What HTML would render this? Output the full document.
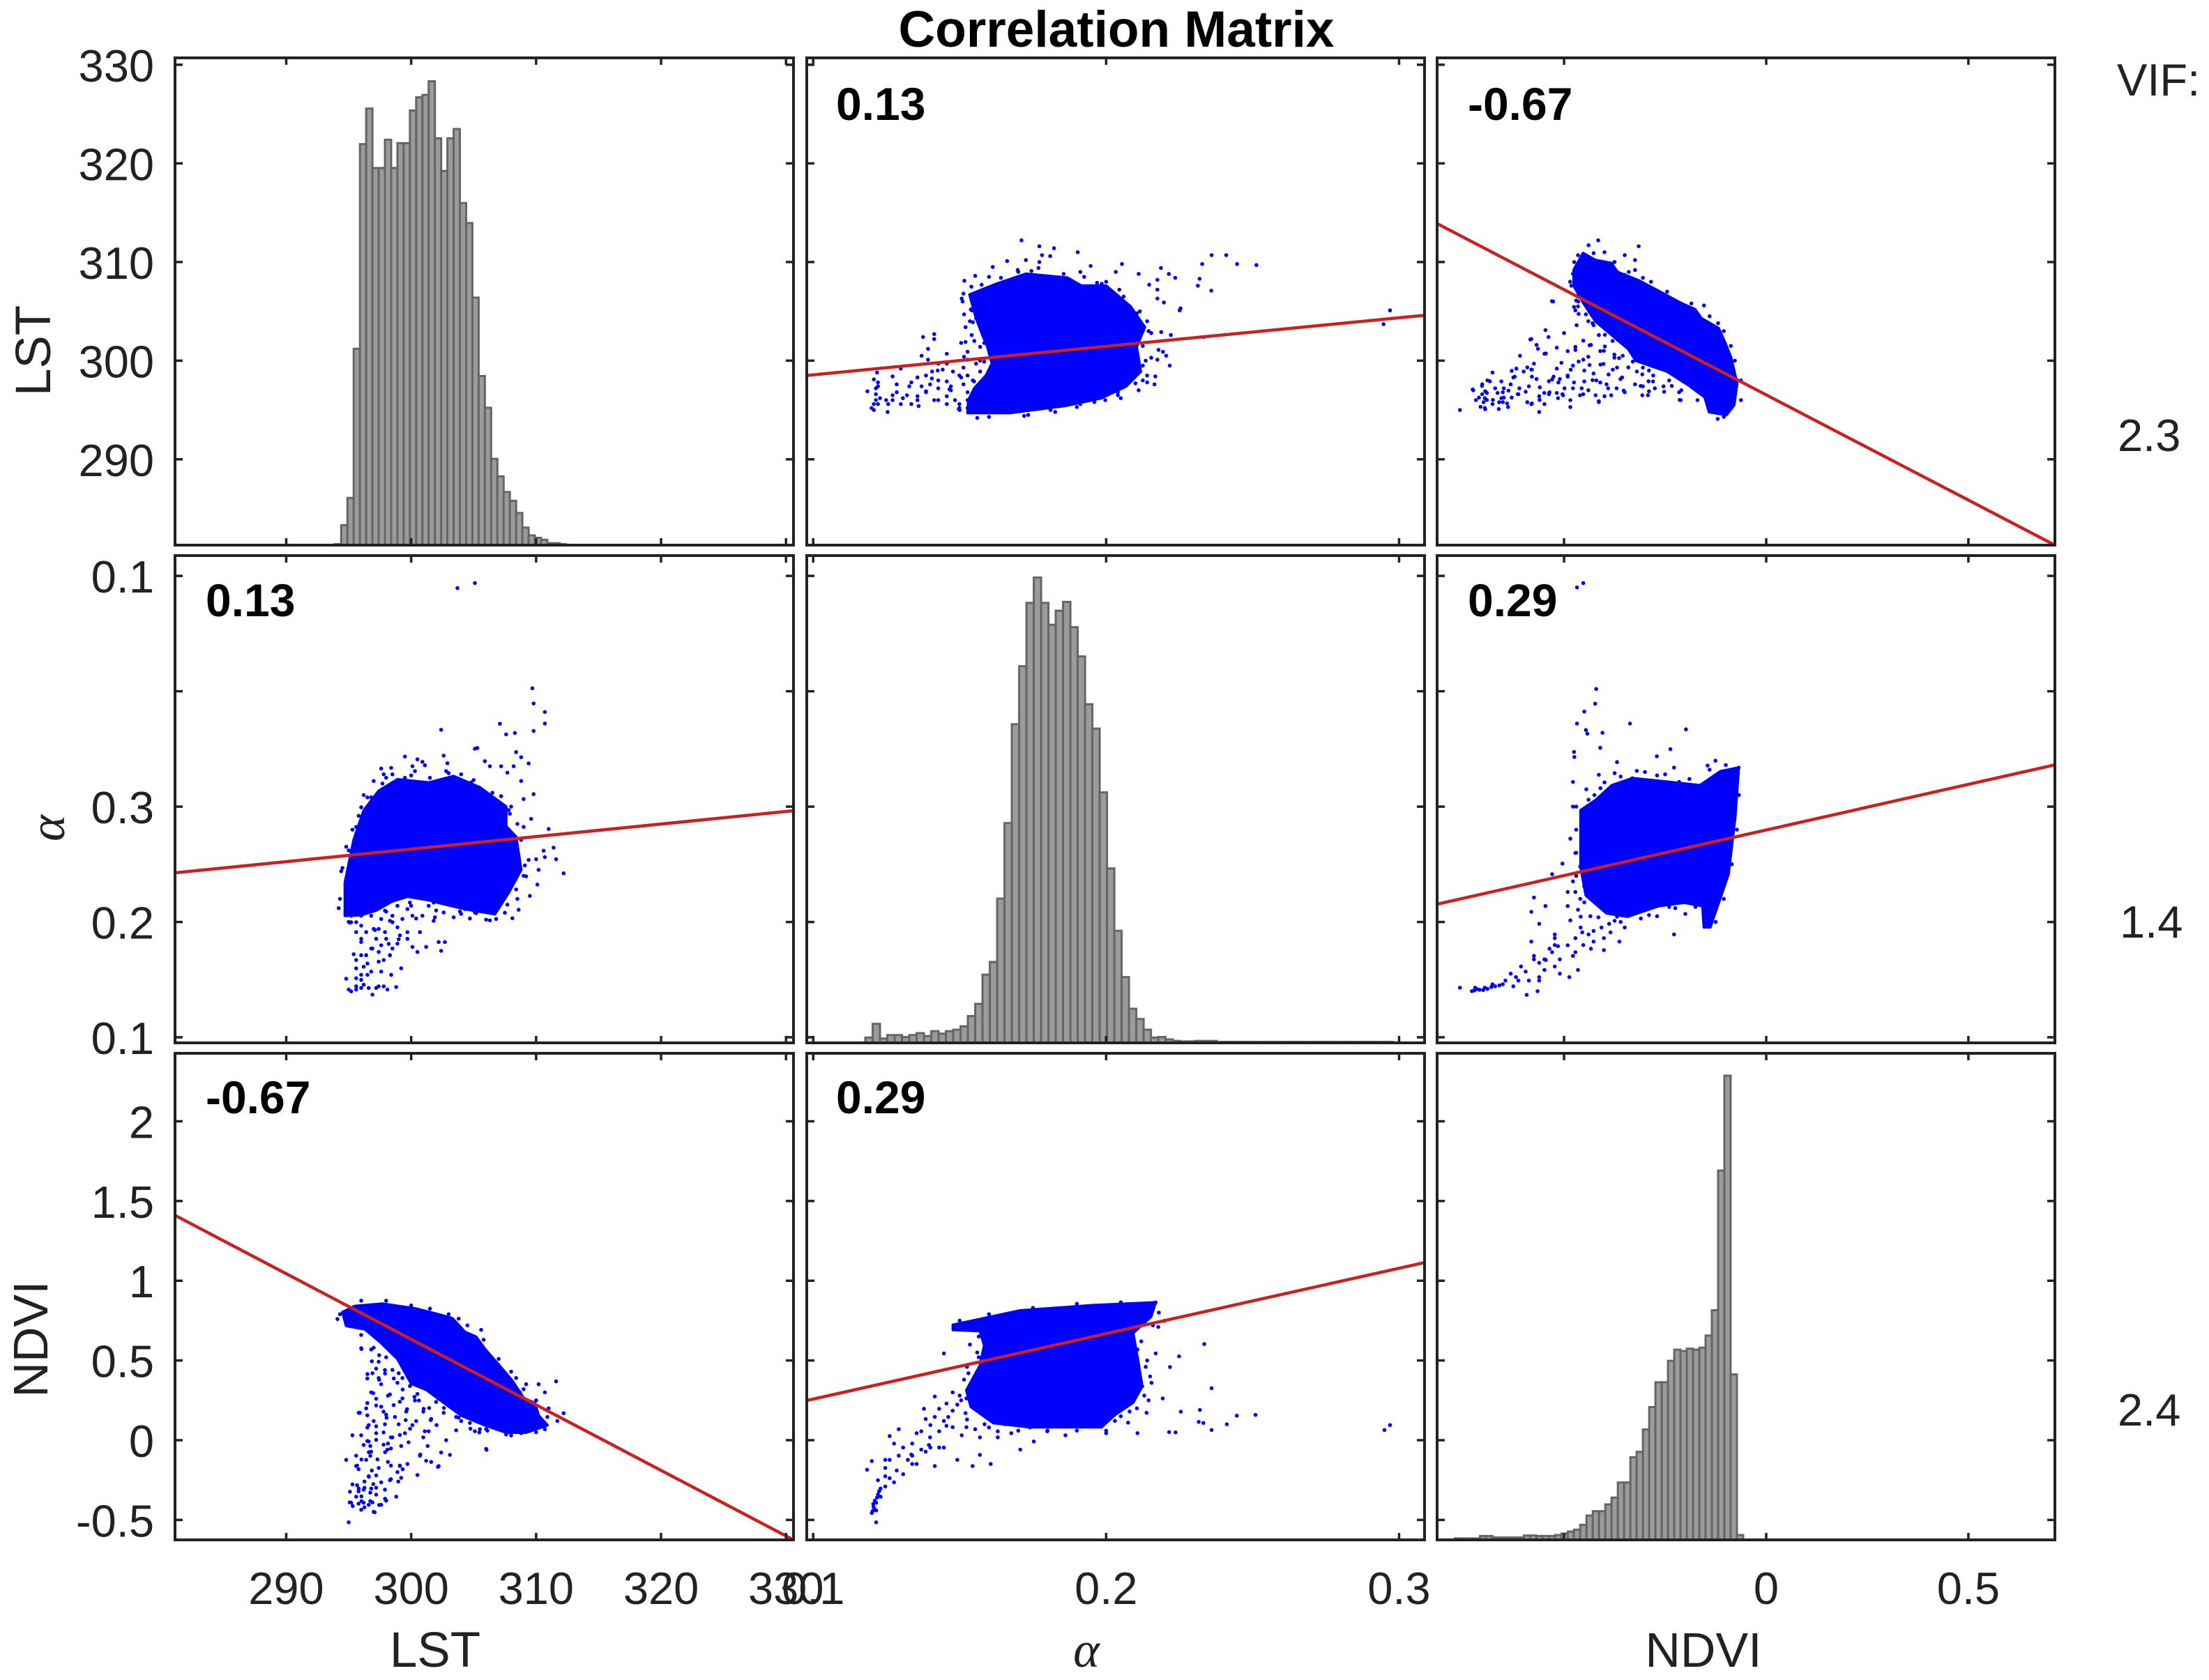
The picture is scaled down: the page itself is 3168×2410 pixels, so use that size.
<!DOCTYPE html>
<html lang="en">
<head>
<meta charset="utf-8">
<title>Correlation Matrix</title>
<style>
html,body{margin:0;padding:0;background:#fff;}
svg{display:block;}
text{font-family:"Liberation Sans",sans-serif;fill:#222;}
</style>
</head>
<body>
<svg id="chart" xmlns="http://www.w3.org/2000/svg" width="3168" height="2410" viewBox="0 0 3168 2410">
<rect x="0" y="0" width="3168" height="2410" fill="#fff"/>
<text x="1601" y="67" text-anchor="middle" font-size="73" font-weight="700" style="fill:#000" textLength="625" lengthAdjust="spacingAndGlyphs">Correlation Matrix</text>
<text x="3036" y="137" font-size="65">VIF:</text>
<text x="3037" y="647" font-size="65">2.3</text>
<text x="3040" y="1345" font-size="65">1.4</text>
<text x="3037" y="2045" font-size="65">2.4</text>
<text transform="translate(72,503) rotate(-90)" text-anchor="middle" font-size="71">LST</text>
<text transform="translate(92,1188) rotate(-90)" text-anchor="middle" font-size="72" font-style="italic" style="font-family:'Liberation Serif',serif">α</text>
<text transform="translate(68,1921) rotate(-90)" text-anchor="middle" font-size="70">NDVI</text>
<text x="624" y="2391" text-anchor="middle" font-size="71">LST</text>
<text x="1558" y="2391" text-anchor="middle" font-size="72" font-style="italic" style="font-family:'Liberation Serif',serif">α</text>
<text x="2443" y="2391" text-anchor="middle" font-size="70">NDVI</text>
</svg>
<script>
// ---- Axis tick values and printed labels ----
const lstTicks = [290, 300, 310, 320, 330];
const lstTickLabels = ['290', '300', '310', '320', '330'];
const alphaXTicks = [0.1, 0.2, 0.3];
const alphaXTickLabels = ['0.1', '0.2', '0.3'];
const alphaYTicks = [0.1, 0.15, 0.2, 0.25, 0.3];
const alphaYTickLabels = ['0.1', '0.2', '0.3', '', '0.1'];
const ndviXTicks = [0, 1, 2];
const ndviXTickLabels = ['', '0', '0.5'];
const ndviYTicks = [-0.5, 0, 0.5, 1, 1.5, 2];
const ndviYTickLabels = ['-0.5', '0', '0.5', '1', '1.5', '2'];

// ---- Histogram counts (per-mille of axis height) ----
const lstHistStart = 293.9;
const lstHistBin = 0.5;
const lstHistCounts = [2,41,97,403,823,896,774,774,832,774,825,825,892,919,924,952,835,768,835,854,702,661,508,347,282,177,141,109,91,66,36,20,15,11,4,4,2];
const alphaHistStart = 0.1178;
const alphaHistBin = 0.0025;
const alphaHistCounts = [11,39,9,16,16,12,16,20,14,24,19,24,27,34,55,80,140,166,296,451,654,773,903,955,903,858,887,905,853,793,695,645,514,358,230,135,70,49,27,11,12,7,4,3,3,4,4,4,2,2,2,2,2,2,2,2,2,2,2,2,2,2,2,2,2,2,2,2,2,2,2,2];
const ndviHistStart = -0.54;
const ndviHistBin = 0.031;
const ndviHistCounts = [3,3,3,3,8,8,5,5,5,5,5,9,9,8,8,8,10,13,17,21,31,50,59,59,73,87,118,118,170,181,227,273,324,324,368,391,388,393,391,395,420,472,759,954,340,10];

// ---- Scatter: dense core outlines and sparse points, [a, b] value pairs ----
const lstAlphaCore = [[294.7,.1527],[294.7,.167],[295.4,.1855],[296.2,.1983],[297.4,.2068],[298.9,.2118],[301.4,.2104],[303.4,.2132],[305.5,.2083],[307.6,.2],[307.6,.1915],[308.4,.1869],[308.8,.1726],[307.8,.1627],[306.7,.1534],[304.3,.1556],[302.6,.1578],[301.4,.1595],[299.7,.161],[298.5,.159],[297.2,.155],[296,.153]];
const lstAlphaPoints = [[303.7,.2947],[305.1,.2969],[309.7,.2513],[309.8,.2447],[310.7,.241],[310.7,.236],[309.8,.2328],[307.1,.2359],[307.6,.2313],[308.3,.2319],[302.4,.2333],[305.1,.2251],[305.3,.2254],[308.4,.2236],[308.8,.2214],[309.4,.2187],[305.9,.2197],[299.5,.2217],[300.5,.2205],[300.9,.2194],[302.6,.2221],[302.9,.2188],[301.1,.2179],[297.6,.2165],[298.4,.2168],[297.8,.214],[300.1,.2175],[300.3,.2154],[302.8,.2154],[306.3,.2175],[307.2,.2175],[307.7,.2147],[308.2,.2175],[308.8,.2111],[309.8,.2054],[309,.2033],
[312.2,.1711],[311,.1903],[311.4,.1822],[310.6,.1809],[311.6,.1772],[310.7,.1781],[310,.1772],[310.2,.1726],[310.1,.1662],[309.5,.1613],[308.6,.1553],[308.1,.1516],[306.8,.1513],[306.3,.1507],[308.4,.1641],[309.2,.1698],[307.8,.1769],[308.8,.1855],[309.6,.1947],[307.9,.1969],[306.7,.1912],[309,.1912],[307.4,.1684],[306.9,.1598],[308.4,.1734],[309.4,.1769],[307.6,.1848],[307.2,.2045],[308,.2],[308.5,.1925],[307.3,.1935],[308.2,.1805],[309.1,.1745],[307.1,.1655],[307.7,.1575],[306.2,.1555],[305.2,.1538],[304.7,.1515],[303.9,.1545],
[295.6,.1456],[294.8,.1254],[295,.1207],[295.2,.1199],[295.6,.1207],[296,.1214],[296.6,.1214],[296.9,.1185],[297.4,.1221],[298.1,.1207],[298.8,.1218],[295.6,.1256],[296,.1249],[296.5,.1271],[296.8,.1285],[296.2,.1306],[295.6,.1335],[295.4,.136],[296.4,.1356],[297.4,.137],[298.3,.1356],[299.2,.1299],[298.4,.1271],[297.6,.1285],[300.1,.1392],[301.2,.1392],[302.2,.1413],[302.7,.1413],[302.4,.1375],[300.5,.137],[296,.1413],[297.2,.1427],[297.9,.1456],[298.9,.1477],[299.7,.1456],[300.7,.1456],[298.5,.1527],[299.7,.1556],[296,.1484],[296.8,.1527],[297.6,.1513],[301.4,.157],[302.6,.1541],[303.4,.152],[304.3,.1556],[305.1,.1541],[305.7,.157],[303,.1584],[294.8,.157],[295.2,.1527],[296.8,.157],[300.1,.1627],[299.5,.1613],[294.5,.1734],[294.8,.1826],[295.6,.1912],[296.5,.204],[297,.2111],[296,.1997],[295.1,.1497],[295.4,.1655],[298.3,.1505],[299,.1425],[296.9,.1385],[297.8,.1335],[298.2,.1405],[297.1,.1465],[300.4,.1515],[301.8,.1505],[295.9,.1925],[296.2,.205],[298,.2125],[299.5,.2125],[303.2,.2105],[304.8,.2105],[305.6,.2065],
[296,.1427],[296.4,.1456],[297.4,.147],[298.5,.1499],[299.3,.1513],[300.1,.1527],[300.9,.1527],[301.9,.152],[295.6,.1499],[297,.147],[298,.1427],[298.9,.1406],[299.7,.1427],[297.6,.1399],[296.8,.1385],[296,.1356],[295.6,.1299],[296.5,.132],[296,.1271],[298.5,.1385],[299.1,.1442],[297.4,.1328],[298.3,.1356],[295.6,.1221],[296.2,.1228],[297.2,.1214],[297.8,.1221],[301.8,.1584],[299.9,.1584],[298.9,.157],[297.9,.1549],[297.1,.1556],[296,.1527],[295.2,.1499],
[304,.214],[305,.2115],[306.5,.206],[307.8,.1985],[294.3,.16],[294.2,.156],[294.4,.172],[295,.181],[295.3,.19],[295.8,.196],[296.8,.204],[297.7,.21],[298.5,.214],[300,.2135],[301.5,.2125],[303,.2145],[295,.15],[298,.1545],[300,.157],[302,.155],[304,.1535],[306,.151],[307.5,.154],[308.5,.16],[309,.17]];

const lstNdviCore = [[310.9,.094],[309.2,.048],[307.6,.048],[305.9,.094],[304,.155],[301.2,.317],[300,.355],[298.9,.51],[297.5,.617],[296.3,.696],[294.8,.717],[294.5,.803],[295.5,.841],[297.7,.856],[300.3,.826],[301.9,.795],[303.3,.764],[304.3,.679],[305.2,.648],[305.9,.572],[307.1,.464],[308.1,.372],[309,.264],[309.9,.233],[310.2,.155]];
const lstNdviPoints = [[295,-.515],[297,-.449],[296,-.436],[297.6,-.405],[298,-.379],[295.2,-.392],[295.6,-.354],[296.2,-.392],[296.6,-.405],[295.1,-.323],[295.3,-.277],[295.8,-.303],[296.8,-.303],[297.2,-.341],[298.8,-.354],[298.3,-.251],[297.6,-.264],[296.6,-.226],[298.9,-.2],[300.5,-.218],[302.2,-.162],[299.7,-.149],[301.6,-.136],[300.7,-.097],[299.1,-.162],[295.6,-.162],[294.8,-.123],[295.6,-.097],[296.4,-.123],[296.8,-.072],[297.4,-.174],[298.1,-.059],[302.4,-.077],[303.1,-.092],[306,-.054],[295.3,.031],[296,.031],[296.6,-.008],[297.2,.044],[298.5,.018],[299.5,.044],[300.1,.095],[301.4,.056],[302.8,0],[303.6,.062],[295.8,.172],[296.6,.095],[297.6,.21],[298.7,.146],[301,.197],[301.6,.133],[302.6,.172],[303.6,.146],[304.7,.108],[305.5,.069],[296.8,.3],[298.3,.287],[299.3,.262],[300.3,.249],[296.5,.415],[297.4,.39],[298.5,.441],[297.4,.492],[296.8,.569],[296,.577],[299.3,.39],[297.6,.351],
[296.2,-.31],[296.9,-.39],[297.9,-.31],[297.3,-.12],[296.2,-.03],[297.9,.1],[299,.1],[296.4,.2],[297,.12],[298,.16],[299.6,.18],[300.4,.12],[297.2,.26],[298.6,.22],[296.9,.42],[297.9,.44],[298.9,.36],[299.9,.34],
[312.2,.169],[311.6,.369],[310.7,.3],[310.2,.351],[309.2,.351],[310,.249],[310.9,.146],[311.7,.121],[310.7,.069],[309.6,.082],[308.8,.044],[307.6,.036],[310.2,.146],[305.6,.692],[306.5,.505],[308.4,.39],[307.4,.338],[309,.262],[310,.159],[303.8,.762],[305.1,.056],[309.2,.121],[308.4,.069],[307.8,.121],[306.8,.072],[306.1,.06],[304.9,.13],[303.9,.18],[309.9,.2],[308.7,.3],
[295.32,-.413],[295.08,-.39],[295.79,-.398],[296.26,-.421],[296.02,-.382],[296.02,-.352],[295.79,-.321],[296.26,-.298],[296.73,-.329],[297.2,-.298],[296.97,-.275],[296.26,-.259],[295.67,-.282],[296.61,-.229],[297.2,-.221],[296.85,-.19],[295.79,-.182],[295.67,-.159],[296.02,-.121],[296.73,-.098],[296.61,-.075],[296.73,-.036],[296.49,-.005],[297.2,.002],[297.79,-.028],[297.91,-.075],[298.38,-.052],[298.14,-.021],[298.38,.018],[299.09,.033],[297.79,.049],[297.2,.087],[296.49,.079],[296.49,.156],[295.9,.172],[298.03,.141],[297.79,.179],[297.2,.218],[296.49,.233],[296.97,.295],[298.14,.279],[299.09,.241],[299.67,.195],[299.56,.126],[299.91,.072],[299.79,-.013],[299.2,-.036],[299.09,-.159],[299.32,-.182],[299.2,-.236],[298.97,-.259],[298.38,-.244],[298.38,-.159],[298.14,-.136],[297.91,-.367],[297.44,-.406],[297.08,-.452],[296.73,-.382],[301.2,-.129],[302.15,-.167],[300.73,-.09],[301.32,-.036],[300.97,.018],[301.09,.056],[302.03,.095],[301.56,.126],[300.97,.179],[301.44,.202],[300.62,.249],[300.26,.272],[299.32,.318],[298.61,.387],[297.91,.418],[297.44,.379],[297.2,.449],[296.85,.495],[296.49,.387],[297.44,.533],[296.02,.572],[300.26,.364],[302.15,.356],[305.45,.049],[304.74,.072],[303.8,.141],[302.62,.202],[302.15,.264],[306.03,-.06],
[294.3,.79],[294.1,.76],[296,.875],[298,.875],[300,.845],[301.5,.825],[303,.79],[304.5,.72],[305.8,.63],[307,.51],[308,.43],[309,.32],[310,.25],[311,.2],[310,.05],[308,.03],[306,.07],[304,.12],[302,.24],[300.5,.29],[299,.42],[298,.52],[297,.58],[296,.66]];

const alphaNdviCore = [[.1477,.723],[.1707,.813],[.1953,.846],[.2169,.864],[.2153,.774],[.2092,.672],[.2107,.518],[.2123,.338],[.2092,.236],[.203,.159],[.1984,.082],[.1861,.082],[.1738,.082],[.1615,.108],[.1538,.21],[.1523,.313],[.1569,.467],[.1584,.595],[.1569,.685],[.1477,.692]];
const alphaNdviPoints = [[.1215,-.515],[.12,-.456],[.1206,-.418],[.121,-.379],[.1221,-.341],[.123,-.303],[.1221,-.251],[.1261,-.238],[.1307,-.213],[.1353,-.149],[.1246,-.174],[.1184,-.185],[.12,-.131],[.1261,-.123],[.1323,-.123],[.1369,-.059],[.1415,-.162],[.1492,-.123],[.1544,-.162],[.1606,-.149],[.1569,-.092],[.1261,.026],[.1292,.069],[.1338,-.021],[.1399,.018],[.1446,-.046],[.143,.056],[.1353,.044],[.1507,.031],[.1378,.197],[.1415,.146],[.1476,.185],[.1415,.274],[.1538,.313],[.1476,.3],[.1446,.544],[.1553,.069],[.163,.018],[.1676,.044],[.1707,-.059],[.1753,-.008],[.1799,.056],[.1861,.031],[.1892,.095],[.2,.044],[.2107,.044],[.203,.121],[.2138,.172],[.2215,.051],[.2237,.049],[.2193,.262],[.2255,.179],[.232,.19],[.2316,.115],[.2332,.108],[.236,.064],[.2412,.1],[.2446,.154],[.251,.159],[.236,.326],[.2335,.603],[.2249,.526],[.2218,.459],[.2123,.338],[.2169,.544],[.2107,.569],[.2199,.749],[.2178,.71],[.2169,.864],[.2092,.403],[.2061,.236],[.295,.064],[.2969,.095],
[.1205,-.4],[.1215,-.44],[.1218,-.36],[.1225,-.32],[.1285,-.19],[.1335,-.09],[.1395,-.03],[.1455,.09],[.1525,.13],[.1585,.1],[.1655,.1],[.174,.08],[.182,.1],[.195,.1],[.205,.15],[.2075,.11],[.2105,.2],[.2145,.25],[.2155,.36],[.2135,.46],[.21,.5],[.2085,.62],[.1505,.25],[.1455,.23],[.1515,.38],[.1525,.46],[.1565,.52],[.1535,.6],[.1565,.65],
[.1276,-.021],[.1307,-.046],[.1338,-.097],[.1384,-.072],[.14,-.046],[.143,-.046],[.1369,.056],[.1292,-.097],[.1246,-.226],[.1276,-.264],[.1338,-.149],[.14,.095],[.1446,.121],[.1461,.146],[.1492,.223],[.1523,.262],[.1384,.133],[.143,.197],[.1246,-.29],[.123,-.354],[.1215,-.392],[.1209,-.431],[.1203,-.444],[.1246,-.123],[.1476,.082],[.1523,.082],[.1569,.018],[.163,.056],
[.15,.75],[.16,.79],[.175,.83],[.19,.855],[.205,.865],[.215,.84],[.218,.8],[.216,.72],[.212,.62],[.214,.5],[.215,.4],[.213,.28],[.208,.18],[.2,.06],[.19,.06],[.18,.06],[.17,.06],[.16,.08],[.152,.17],[.15,.28],[.153,.42],[.156,.55]];

// ---- Fitted lines: two [x, y] end values per panel ----
const fitLstOnAlpha = [[.0978,298.5],[.3087,304.6]];
const fitLstOnNdvi = [[-.628,313.9],[2.428,281.3]];
const fitAlphaOnLst = [[281.1,.1713],[330.6,.1982]];
const fitAlphaOnNdvi = [[-.628,.1577],[2.428,.2181]];
const fitNdviOnLst = [[281.1,1.41],[330.6,-.625]];
const fitNdviOnAlpha = [[.0978,.249],[.3087,1.114]];

// ---- Correlation coefficients ----
const corrLstAlpha = '0.13';
const corrLstNdvi = '-0.67';
const corrAlphaNdvi = '0.29';

const svg = document.getElementById('chart');
const NS = 'http://www.w3.org/2000/svg';
const colEdges = [[251, 1138], [1157, 2043], [2061, 2947]];
const rowEdges = [[83, 782], [797, 1496], [1511, 2209]];
const xDomains = {lst: [281.1, 330.6], alpha: [.0978, .3087], ndvi: [-.628, 2.428]};
const yDomains = {lst: [281.3, 330.7], alpha: [.0976, .3088], ndvi: [-.625, 2.426]};
const xTickSets = {lst: lstTicks, alpha: alphaXTicks, ndvi: ndviXTicks};
const yTickSets = {lst: lstTicks, alpha: alphaYTicks, ndvi: ndviYTicks};
const variables = ['lst', 'alpha', 'ndvi'];

function make(tag, attrs, parent) {
  const el = document.createElementNS(NS, tag);
  for (const k in attrs) el.setAttribute(k, attrs[k]);
  (parent || svg).appendChild(el);
  return el;
}
function xAxis(v, c) {
  const d = xDomains[v], e = colEdges[c];
  return val => e[0] + (val - d[0]) / (d[1] - d[0]) * (e[1] - e[0]);
}
function yAxis(v, r) {
  const d = yDomains[v], e = rowEdges[r];
  return val => e[1] - (val - d[0]) / (d[1] - d[0]) * (e[1] - e[0]);
}

function drawHist(r, c, start, bin, counts) {
  const x = xAxis(variables[c], c);
  const e = rowEdges[r];
  const h = e[1] - e[0];
  counts.forEach((n, i) => {
    const x0 = x(start + i * bin), x1 = x(start + (i + 1) * bin);
    const top = e[1] - n / 1000 * h;
    const bar = make('rect', {x: x0, y: top, width: x1 - x0, height: e[1] - top, fill: '#9b9b9b', stroke: '#656565', 'stroke-width': 3});
    
    
  });
}

function drawScatter(r, c, core, points, swap, fit) {
  const x = xAxis(variables[c], c), y = yAxis(variables[r], r);
  const px = p => swap ? x(p[1]) : x(p[0]);
  const py = p => swap ? y(p[0]) : y(p[1]);
  const g = make('g', {'clip-path': 'url(#clip-' + r + '-' + c + ')'});
  
  
  const poly = make('polygon', {points: core.map(p => px(p) + ',' + py(p)).join(' '), fill: '#0000ff', stroke: '#0000ff', 'stroke-width': 4, 'stroke-linejoin': 'round'}, g);
  
  
  points.forEach(p => {
    const dot = make('circle', {cx: px(p), cy: py(p), r: 2.8, fill: '#0000ff'}, g);
    
    
  });
  const line = make('line', {x1: x(fit[0][0]), y1: y(fit[0][1]), x2: x(fit[1][0]), y2: y(fit[1][1]), stroke: '#cc1f1f', 'stroke-width': 4.5});
  g.appendChild(line);
  
  
}

function drawFrame(r, c) {
  const xe = colEdges[c], ye = rowEdges[r];
  const x = xAxis(variables[c], c), y = yAxis(variables[r], r);
  const frame = make('rect', {x: xe[0], y: ye[0], width: xe[1] - xe[0], height: ye[1] - ye[0], fill: 'none', stroke: '#222', 'stroke-width': 4});
  
  
  xTickSets[variables[c]].forEach(t => {
    const p = x(t);
    const a = make('path', {d: 'M' + p + ' ' + ye[0] + 'v10M' + p + ' ' + ye[1] + 'v-10', stroke: '#222', 'stroke-width': 3.5, fill: 'none'});
    
    
  });
  yTickSets[variables[r]].forEach(t => {
    const p = y(t);
    const a = make('path', {d: 'M' + xe[0] + ' ' + p + 'h11M' + xe[1] + ' ' + p + 'h-11', stroke: '#222', 'stroke-width': 3.5, fill: 'none'});
    
    
  });
}

function tickText(txt, x, y, anchor, name) {
  if (!txt) return;
  const t = make('text', {x: x, y: y, 'text-anchor': anchor, 'font-size': 65});
  t.textContent = txt;
  
  
}

function corrText(txt, x, y) {
  const t = make('text', {x: x, y: y, 'font-size': 66, 'font-weight': 700, style: 'fill:#000'});
  t.textContent = txt;
  
  
}

const defs = make('defs', {});
rowEdges.forEach((ye, r) => colEdges.forEach((xe, c) => {
  const cp = make('clipPath', {id: 'clip-' + r + '-' + c}, defs);
  make('rect', {x: xe[0], y: ye[0], width: xe[1] - xe[0], height: ye[1] - ye[0]}, cp);
}));

drawHist(0, 0, lstHistStart, lstHistBin, lstHistCounts);
drawHist(1, 1, alphaHistStart, alphaHistBin, alphaHistCounts);
drawHist(2, 2, ndviHistStart, ndviHistBin, ndviHistCounts);

drawScatter(0, 1, lstAlphaCore, lstAlphaPoints, true, fitLstOnAlpha);
drawScatter(1, 0, lstAlphaCore, lstAlphaPoints, false, fitAlphaOnLst);
drawScatter(0, 2, lstNdviCore, lstNdviPoints, true, fitLstOnNdvi);
drawScatter(2, 0, lstNdviCore, lstNdviPoints, false, fitNdviOnLst);
drawScatter(1, 2, alphaNdviCore, alphaNdviPoints, true, fitAlphaOnNdvi);
drawScatter(2, 1, alphaNdviCore, alphaNdviPoints, false, fitNdviOnAlpha);

for (let r = 0; r < 3; r++) for (let c = 0; c < 3; c++) drawFrame(r, c);

const yLabelSets = [lstTickLabels, alphaYTickLabels, ndviYTickLabels];
const xLabelSets = [lstTickLabels, alphaXTickLabels, ndviXTickLabels];
variables.forEach((v, r) => {
  const y = yAxis(v, r);
  yTickSets[v].forEach((t, i) => tickText(yLabelSets[r][i], 221, y(t) + 24, 'end', 'y-tick-label'));
});
variables.forEach((v, c) => {
  const x = xAxis(v, c);
  xTickSets[v].forEach((t, i) => tickText(xLabelSets[c][i], x(t), 2301, 'middle', 'x-tick-label'));
});

corrText(corrLstAlpha, 1199, 172);
corrText(corrLstNdvi, 2105, 172);
corrText(corrLstAlpha, 295, 884);
corrText(corrAlphaNdvi, 2105, 884);
corrText(corrLstNdvi, 295, 1597);
corrText(corrAlphaNdvi, 1199, 1597);
</script>
</body>
</html>
